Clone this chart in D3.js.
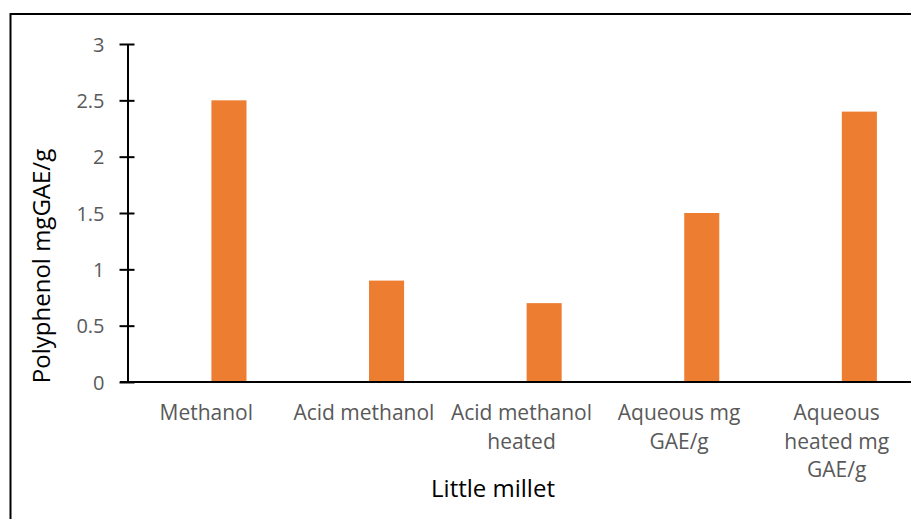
<!DOCTYPE html>
<html lang="en">
<head>
    <meta charset="UTF-8">
    <title>Little millet polyphenol</title>
    <style>
        body { margin: 0; background: #fff; }
        svg { display: block; font-family: "Open Sans", "Noto Sans", sans-serif; }
        .tick-label { fill: #595959; font-size: 20px; }
        .cat-label { fill: #595959; font-size: 21px; }
        .axis-title { fill: #000; font-size: 24px; }
    </style>
</head>
<body>
    <svg id="chart" width="911" height="519"></svg>

    <script src="https://cdnjs.cloudflare.com/ajax/libs/d3/7.8.5/d3.min.js"></script>
    <script>
        // data
        const categories = ["Methanol", "Acid methanol", "Acid methanol heated", "Aqueous mg GAE/g", "Aqueous heated mg GAE/g"];
        const categoryLines = [["Methanol"], ["Acid methanol"], ["Acid methanol", "heated"], ["Aqueous mg", "GAE/g"], ["Aqueous", "heated mg", "GAE/g"]];
        const values = [2.5, 0.9, 0.7, 1.5, 2.4];
        const yTicks = [0, 0.5, 1, 1.5, 2, 2.5, 3];

        const svg = d3.select("#chart");

        // outer frame (runs off the right and bottom edge)
        svg.append("rect")
            .attr("x", 10.5).attr("y", 14)
            .attr("width", 1000).attr("height", 600)
            .attr("fill", "none")
            .attr("stroke", "#000")
            .attr("stroke-width", 2);

        const x0 = d3.scaleBand()
            .domain(categories)
            .range([127.5, 915.5]);

        // two slots per category, the bar sits in the second one
        const x1 = d3.scaleBand()
            .domain(["empty", "value"])
            .range([x0.bandwidth() * 0.31, x0.bandwidth() * 0.755]);

        const y = d3.scaleLinear()
            .domain([0, 3])
            .range([382, 44]);

        // bars
        svg.append("g").selectAll("rect")
            .data(values)
            .enter().append("rect")
            .attr("x", (d, i) => x0(categories[i]) + x1("value"))
            .attr("y", d => y(d))
            .attr("width", x1.bandwidth())
            .attr("height", d => y(0) - y(d))
            .attr("fill", "#ED7D31");

        // y axis
        const yAxis = svg.append("g")
            .attr("transform", "translate(127.5,0)")
            .call(d3.axisLeft(y).tickValues(yTicks).tickSize(0).tickFormat(d3.format("")));
        yAxis.attr("font-size", null).attr("font-family", null);
        yAxis.select(".domain").attr("stroke", "#000").attr("stroke-width", 2);
        yAxis.selectAll(".tick line")
            .attr("x1", -8).attr("x2", 7)
            .attr("stroke", "#000").attr("stroke-width", 2);
        yAxis.selectAll(".tick text")
            .attr("class", "tick-label")
            .attr("x", -23)
            .attr("dy", "0.35em")
            .attr("fill", null);

        // x axis line
        svg.append("line")
            .attr("x1", 120).attr("x2", 911)
            .attr("y1", y(0)).attr("y2", y(0))
            .attr("stroke", "#000")
            .attr("stroke-width", 2);

        // category labels
        const catG = svg.append("g").selectAll("text")
            .data(categoryLines)
            .enter().append("text")
            .attr("class", "cat-label")
            .attr("text-anchor", "middle")
            .attr("x", (d, i) => x0(categories[i]) + x0.bandwidth() / 2)
            .attr("y", 420);
        catG.selectAll("tspan")
            .data(d => d)
            .enter().append("tspan")
            .attr("x", function() { return d3.select(this.parentNode).attr("x"); })
            .attr("dy", (d, i) => i === 0 ? 0 : 28.5)
            .text(d => d);

        // axis titles
        svg.append("text")
            .attr("class", "axis-title")
            .attr("text-anchor", "middle")
            .attr("transform", "translate(50,266) rotate(-90)")
            .text("Polyphenol mgGAE/g");

        svg.append("text")
            .attr("class", "axis-title")
            .attr("text-anchor", "middle")
            .attr("x", 493)
            .attr("y", 497)
            .text("Little millet");
    </script>
</body>
</html>
